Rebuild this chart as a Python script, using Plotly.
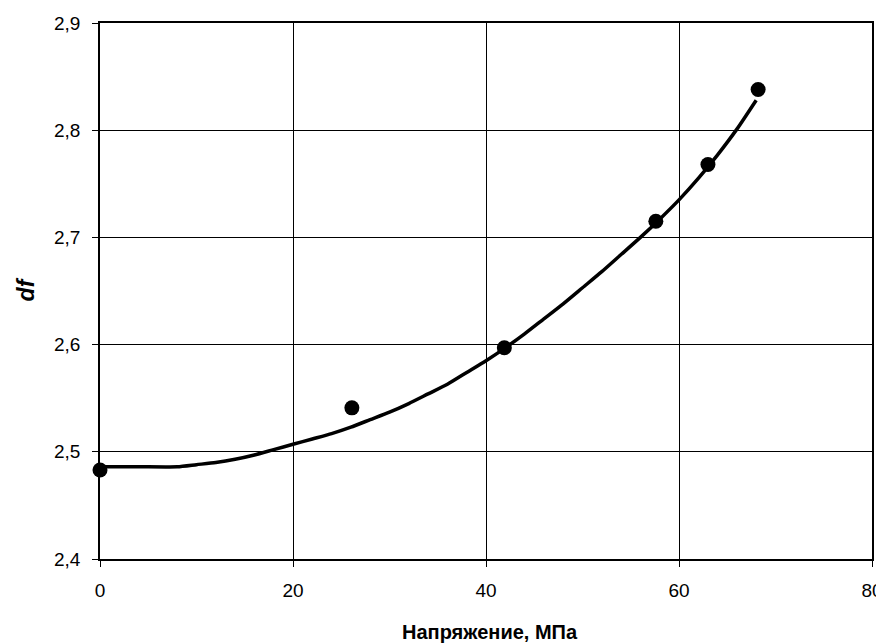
import plotly.graph_objects as go

# Measured points
stress_pts = [0, 26.1, 41.9, 57.6, 63.0, 68.2]
df_pts = [2.483, 2.541, 2.597, 2.715, 2.768, 2.838]

# Trend line
stress_line = [0, 4, 8, 10, 12, 14, 16, 18, 20, 22, 24, 26, 28, 30, 32, 34, 36, 38,
               40, 42, 44, 46, 48, 50, 52, 54, 56, 58, 60, 62, 64, 66, 68]
df_line = [2.486, 2.486, 2.486, 2.488, 2.490, 2.493, 2.497, 2.502, 2.507, 2.512,
           2.517, 2.523, 2.530, 2.537, 2.545, 2.554, 2.563, 2.574, 2.585, 2.597,
           2.610, 2.624, 2.638, 2.653, 2.668, 2.684, 2.700, 2.717, 2.735, 2.755,
           2.777, 2.801, 2.828]

x_ticks = [0, 20, 40, 60, 80]
y_ticks = [2.4, 2.5, 2.6, 2.7, 2.8, 2.9]
y_tick_labels = ["2,4", "2,5", "2,6", "2,7", "2,8", "2,9"]
x_title = "Напряжение, МПа"
y_title = "df"

fig = go.Figure()
fig.add_trace(go.Scatter(x=stress_line, y=df_line, mode="lines",
                         line=dict(color="black", width=3.5, shape="spline",
                                   smoothing=0.6),
                         hoverinfo="skip", showlegend=False))
fig.add_trace(go.Scatter(x=stress_pts, y=df_pts, mode="markers",
                         marker=dict(color="black", size=15, symbol="circle"),
                         showlegend=False, cliponaxis=False))

font_family = "Liberation Sans, Arial, sans-serif"
# page body has an 8px margin, so the figure is offset by (8, 8)
fig.update_layout(
    width=876, height=635,
    margin=dict(l=92, r=12, t=15, b=84),
    paper_bgcolor="white", plot_bgcolor="white",
    font=dict(family=font_family, color="black", size=19),
    xaxis=dict(range=[0, 80], tickvals=x_ticks, ticktext=[str(v) for v in x_ticks],
               showgrid=True, gridcolor="black", gridwidth=1,
               showline=True, linecolor="black", linewidth=1.5, mirror=True,
               ticks="outside", ticklen=6, tickcolor="black",
               ticklabelstandoff=7, zeroline=False, automargin=False),
    yaxis=dict(range=[2.4, 2.9], tickvals=y_ticks, ticktext=y_tick_labels,
               showgrid=True, gridcolor="black", gridwidth=1,
               showline=True, linecolor="black", linewidth=1.5, mirror=True,
               ticks="outside", ticklen=6, tickcolor="black",
               ticklabelstandoff=8, zeroline=False, automargin=False),
    annotations=[
        dict(text="<b>" + x_title + "</b>", xref="paper", yref="paper",
             x=0.505, y=0, yshift=-73, showarrow=False, xanchor="center",
             yanchor="middle", font=dict(size=20)),
        dict(text="<b><i>" + y_title + "</i></b>", xref="paper", yref="paper",
             x=0, xshift=-74, y=0.503, showarrow=False, xanchor="center",
             yanchor="middle", textangle=-90, font=dict(size=23)),
    ],
)

fig.write_html("out.html")
